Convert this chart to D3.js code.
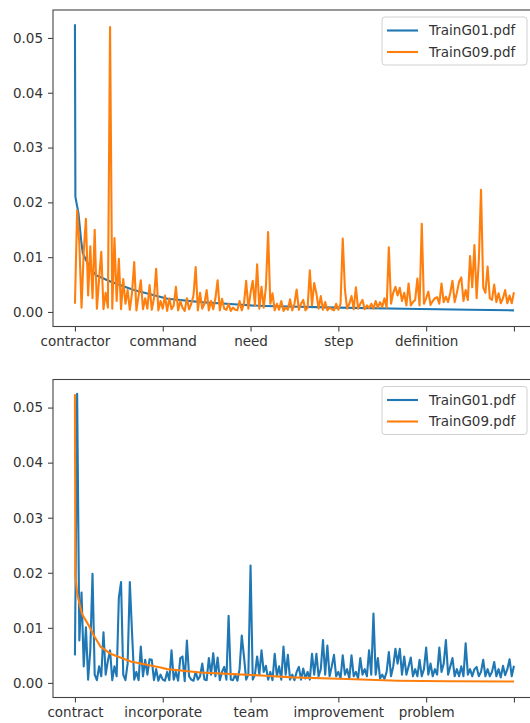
<!DOCTYPE html>
<html>
<head>
<meta charset="utf-8">
<script src="https://cdn.jsdelivr.net/npm/d3@7"></script>
<style>
  body { margin: 0; background: #fff; }
  svg { display: block; }
  text { font-family: "DejaVu Sans", sans-serif; fill: #333; }
</style>
</head>
<body>
<div id="graph"></div>
<script>
// word ranks shown on the x axis (every 200th word)
var tickIdx = [0, 200, 400, 600, 800, 1000]
var topLabels = ['contractor', 'command', 'need', 'step', 'definition', '']
var bottomLabels = ['contract', 'incorporate', 'team', 'improvement', 'problem', '']
var yTicks = [0, 0.01, 0.02, 0.03, 0.04, 0.05]
var seriesNames = ['TrainG01.pdf', 'TrainG09.pdf']
var colors = ['#1f77b4', '#ff7f0e']

// sampled every 5th word
var step = 5

// top chart: TrainG01 sorted (smooth), TrainG09 jagged
var topG01Rank = [0, 1, 8, 14, 18, 33, 48, 82, 134, 211, 287, 362, 401, 433, 600, 750, 900, 1000]
var topG01 = [.0525, .021, .018, .0131, .0107, .0082, .0067, .0055, .004, .0024, .0018, .0014, .0012, .0011, .0008, .0006, .0004, .0003]

var topG09 = [
  .0015, .0185, .0125, .0008, .011, .017, .003, .012, .0025, .015,
  .0006, .006, .011, .0005, .0035, .0008, .052, .0006, .0135, .002,
  .0097, .0005, .006, .0015, .004, .0004, .0035, .0091, .0003, .003,
  .0058, .0005, .0025, .0006, .0049, .0004, .0025, .0079, .0003, .002,
  .0006, .003, .0002, .0025, .0005, .0012, .0046, .0003, .002, .0008,
  .0002, .0025, .0005, .0015, .003, .0082, .0003, .0035, .0006, .0015,
  .004, .0003, .002, .0005, .0025, .0058, .0003, .0024, .0006, .0004,
  .0015, .0002, .0008, .0004, .0003, .002, .0003, .0015, .0057, .0006,
  .0035, .0057, .0012, .0087, .0006, .0046, .0008, .0046, .0146, .0015,
  .0034, .0003, .0015, .0004, .002, .0002, .0008, .0004, .0023, .0003,
  .0015, .0041, .0004, .0015, .0022, .0003, .0008, .0076, .0012, .0053,
  .0034, .0006, .0029, .0004, .0018, .0003, .0008, .0005, .0003, .0015,
  .0004, .0015, .0134, .0041, .0006, .0015, .0029, .0005, .0045, .0006,
  .0015, .0022, .0005, .0012, .0007, .0015, .0006, .002, .0008, .0018,
  .0009, .0025, .0008, .0118, .0015, .0035, .0046, .003, .0044, .002,
  .0035, .0012, .0052, .0012, .0018, .0022, .0061, .0012, .0161, .0015,
  .0025, .0037, .0013, .002, .0025, .0027, .0015, .0052, .0018, .0028,
  .0018, .0035, .0057, .0018, .0035, .0055, .0063, .002, .004, .0022,
  .0102, .0045, .0122, .0025, .0094, .0223, .0045, .0035, .0083, .0025,
  .0022, .005, .0018, .0034, .0016, .0025, .004, .0016, .003, .0016,
  .0036
]

// bottom chart: TrainG01 jagged, TrainG09 sorted (smooth)
var botG01 = [
  .005, .0525, .0077, .0164, .003, .0101, .0006, .006, .0198, .0015,
  .0005, .003, .0012, .0092, .0015, .004, .0059, .0005, .003, .0012,
  .0155, .0183, .0015, .0005, .0035, .0183, .0092, .0006, .002, .0005,
  .0066, .0012, .0042, .0015, .0043, .0042, .0005, .0025, .0004, .0015,
  .0006, .0004, .002, .0005, .0059, .0006, .002, .0004, .0045, .0048,
  .0003, .0077, .0012, .0006, .0004, .002, .0006, .0012, .0035, .0006,
  .0005, .0045, .0015, .0054, .0012, .0046, .0005, .002, .0029, .0006,
  .0122, .0006, .0005, .0015, .0004, .0025, .0086, .0048, .0006, .0015,
  .0213, .0006, .0015, .0048, .0015, .0059, .002, .0031, .0006, .002,
  .0005, .0053, .0012, .003, .0006, .0066, .0015, .0051, .0006, .0015,
  .0005, .002, .0029, .0006, .0026, .0008, .002, .0006, .0053, .0015,
  .0053, .0012, .0025, .0078, .0015, .0068, .0012, .003, .0051, .0012,
  .002, .0008, .005, .0015, .0025, .0008, .005, .0012, .002, .0008,
  .0045, .0015, .0025, .0012, .0059, .0015, .0126, .0015, .0045, .0008,
  .0015, .0007, .002, .0056, .0012, .003, .0062, .0035, .0062, .0015,
  .0048, .0015, .003, .0046, .0012, .0025, .0012, .0042, .0012, .0025,
  .0064, .0015, .0035, .0012, .0025, .0015, .0064, .002, .0035, .0078,
  .0015, .003, .0045, .0012, .0025, .0012, .003, .0012, .0072, .0015,
  .0025, .0012, .0025, .0029, .0012, .002, .0042, .0012, .0025, .0012,
  .002, .0038, .0012, .0025, .001, .0031, .0014, .0025, .0043, .0012,
  .0031
]
var botG09Rank = [0, 1, 5, 16, 31, 43, 58, 81, 127, 195, 210, 286, 361, 434, 495, 620, 735, 850, 1000]
var botG09 = [.0524, .0195, .0162, .0125, .0105, .0086, .0066, .0053, .0039, .0028, .0025, .0019, .0016, .0013, .001, .0007, .0004, .0003, .00025]

var W = 530, H = 723
var svg = d3.select('#graph').append('svg').attr('width', W).attr('height', H)

var panels = [
  {top: 10, bottom: 326.5, labels: topLabels,
    series: [
      topG01Rank.map((r, i) => [r, topG01[i]]),
      topG09.map((v, i) => [i*step, v])
    ]},
  {top: 379.5, bottom: 697.5, labels: bottomLabels,
    series: [
      botG01.map((v, i) => [i*step, v]),
      botG09Rank.map((r, i) => [r, botG09[i]])
    ]}
]

panels.forEach(p => {
  var x = d3.scaleLinear().domain([-50, 1050]).range([53, 535.9])
  var y = d3.scaleLinear().domain([-0.00265, 0.0551]).range([p.bottom, p.top])

  var g = svg.append('g')

  var line = d3.line().x(d => x(d[0])).y(d => y(d[1]))
  p.series.forEach((s, i) => {
    g.append('path').datum(s)
      .attr('d', line)
      .attr('fill', 'none')
      .attr('stroke', colors[i])
      .attr('stroke-width', 2.1)
      .attr('stroke-linejoin', 'round')
  })

  g.append('rect')
    .attr('x', 53).attr('y', p.top)
    .attr('width', 535.9 - 53).attr('height', p.bottom - p.top)
    .attr('fill', 'none').attr('stroke', '#444').attr('stroke-width', 1.1)

  var xAxis = d3.axisBottom(x).tickValues(tickIdx)
    .tickFormat((d, i) => p.labels[i]).tickSize(5).tickSizeOuter(0).tickPadding(5)
  var gx = g.append('g').attr('transform', `translate(0,${p.bottom})`).call(xAxis)

  var yAxis = d3.axisLeft(y).tickValues(yTicks)
    .tickFormat(d3.format('.2f')).tickSize(5).tickSizeOuter(0).tickPadding(5)
  var gy = g.append('g').attr('transform', 'translate(53,0)').call(yAxis)

  ;[gx, gy].forEach(a => {
    a.select('.domain').remove()
    a.selectAll('line').attr('stroke', '#444').attr('stroke-width', 1.1)
    a.selectAll('text').attr('font-size', 13.5).attr('fill', '#333')
      .style('font-family', '"DejaVu Sans", sans-serif')
  })

  // legend
  var lg = g.append('g').attr('transform', `translate(382,${p.top + 7})`)
  lg.append('rect').attr('width', 145).attr('height', 48).attr('rx', 3)
    .attr('fill', 'rgba(255,255,255,0.8)').attr('stroke', '#d0d0d0')
  seriesNames.forEach((name, i) => {
    var yy = 13.5 + i*21.5
    lg.append('line').attr('x1', 5).attr('x2', 36).attr('y1', yy).attr('y2', yy)
      .attr('stroke', colors[i]).attr('stroke-width', 2.1)
    lg.append('text').attr('x', 47).attr('y', yy).attr('dy', '0.35em')
      .attr('font-size', 13.5).text(name)
  })
})
</script>
</body>
</html>
